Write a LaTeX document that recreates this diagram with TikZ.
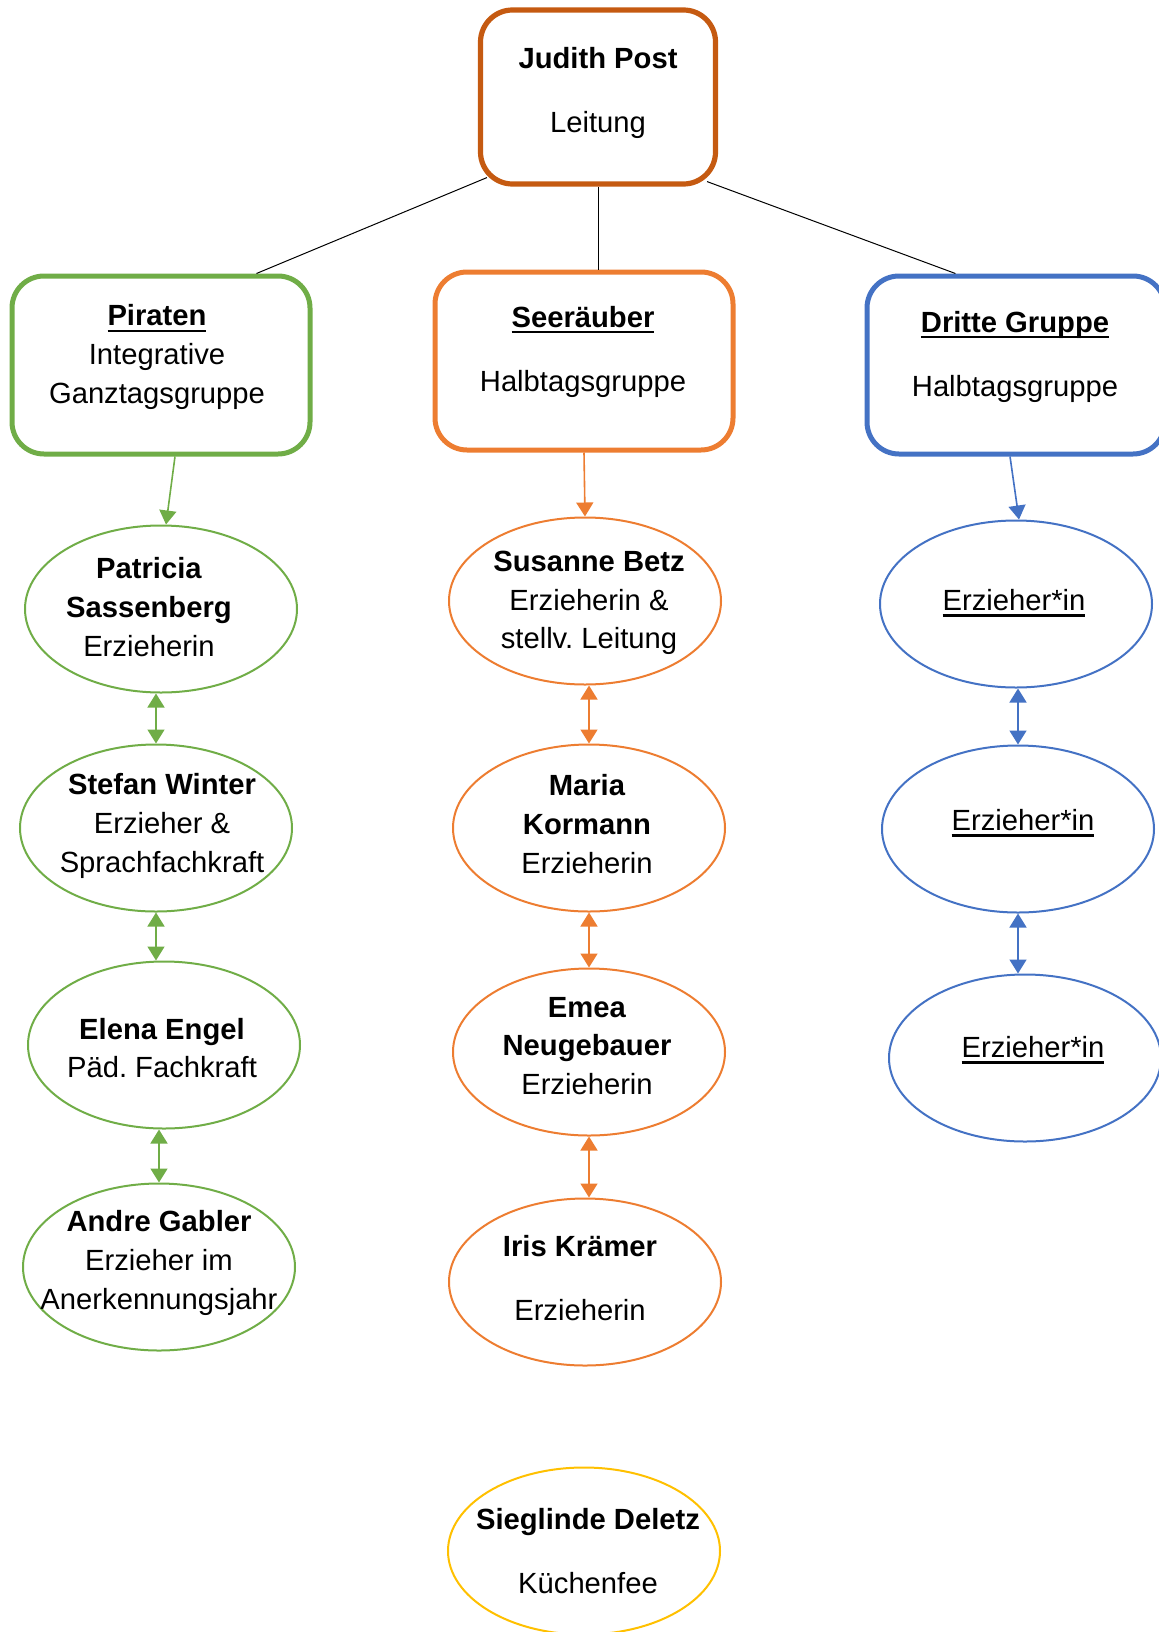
\documentclass[tikz,border=0pt]{standalone}
\usepackage{fontspec}
\setmainfont{Liberation Sans}
\usetikzlibrary{arrows.meta}
\usetikzlibrary{shapes.geometric}
\usetikzlibrary{calc}

\definecolor{leitung}{HTML}{C55A11}
\definecolor{gruen}{HTML}{70AD47}
\definecolor{seeorange}{HTML}{ED7D31}
\definecolor{blau}{HTML}{4472C4}
\definecolor{gelb}{HTML}{FFC000}

\newcommand{\ulin}[1]{\setbox0\hbox{#1}\rlap{\rule[-3pt]{\wd0}{1.1pt}}\box0}
\frenchspacing

\begin{document}
\begin{tikzpicture}[x=0.5pt,y=-0.5pt,
		font=\fontsize{14.6}{19.3}\selectfont,
		gruppe/.style={draw=#1,rounded corners=16pt,line width=2.5pt,minimum width=149pt,minimum height=89pt,inner sep=0pt},
		person/.style={draw=#1,ellipse,line width=1pt,minimum width=136pt,minimum height=83.5pt,inner sep=0pt},
		txt/.style={align=center,inner sep=0pt},
		link/.style={line width=0.5pt},
		pfeil/.style={draw=#1,line width=0.8pt,-{Triangle[length=7pt,width=8.5pt]}},
		doppel/.style={draw=#1,line width=0.8pt,{Triangle[length=7pt,width=8.5pt]}-{Triangle[length=7pt,width=8.5pt]}}]
		\useasboundingbox (0,0) rectangle (1158,1632);
		
		% Leitung und Gruppen
		\node[gruppe=leitung,line width=2.6pt,minimum width=117.5pt,minimum height=87pt] (top) at (598,97) {};
		\node[txt] (top-t) at (598,93) {\textbf{Judith Post}\\[13pt]Leitung};
		\node[gruppe=gruen] (pir) at (161,365) {};
		\node[txt] (pir-t) at (157,357) {\textbf{\ulin{Piraten}}\\Integrative\\Ganztagsgruppe};
		\node[gruppe=seeorange] (seer) at (584,361) {};
		\node[txt] (seer-t) at (583,352) {\textbf{\ulin{Seeräuber}}\\[13pt]Halbtagsgruppe};
		\node[gruppe=blau] (dri) at (1016,365) {};
		\node[txt] (dri-t) at (1015,357) {\textbf{\ulin{Dritte Gruppe}}\\[13pt]Halbtagsgruppe};
		
		\draw[link] ($(top.south west)+(9,-9)$) -- ($(pir.north west)!.815!(pir.north east)$);
		\draw[link] (top.south) -- (top.south |- seer.north);
		\draw[link] ($(top.south east)+(-11,-5)$) -- ($(dri.north west)!.3!(dri.north east)$);
		
		% Piraten
		\node[person=gruen] (pat) at (161,609) {};
		\node[txt] (pat-t) at (149,607) {\textbf{Patricia}\\\textbf{Sassenberg}\\Erzieherin};
		\node[person=gruen] (ste) at (156,828) {};
		\node[txt] (ste-t) at (162,826) {\textbf{Stefan Winter}\\Erzieher \&\\Sprachfachkraft};
		\node[person=gruen] (ele) at (164,1045) {};
		\node[txt] (ele-t) at (162,1048) {\textbf{Elena Engel}\\Päd. Fachkraft};
		\node[person=gruen] (and) at (159,1267) {};
		\node[txt] (and-t) at (159,1263) {\textbf{Andre Gabler}\\Erzieher im\\Anerkennungsjahr};
		
		\draw[pfeil=gruen] ([xshift=7pt]pir.south) -- ([xshift=2.5pt]pat.north);
		\draw[doppel=gruen] (pat.south -| ste.north) -- (ste.north);
		\draw[doppel=gruen] (ste.south) -- (ste.south |- ele.north);
		\draw[doppel=gruen] (ele.south -| and.north) -- (and.north);
		
		% Seeraeuber
		\node[person=seeorange] (sus) at (585,601) {};
		\node[txt] (sus-t) at (589,603) {\textbf{Susanne Betz}\\Erzieherin \&\\stellv. Leitung};
		\node[person=seeorange] (mar) at (589,828) {};
		\node[txt] (mar-t) at (587,824) {\textbf{Maria}\\\textbf{Kormann}\\Erzieherin};
		\node[person=seeorange] (emea) at (589,1052) {};
		\node[txt] (emea-t) at (587,1046) {\textbf{Emea}\\\textbf{Neugebauer}\\Erzieherin};
		\node[person=seeorange] (iri) at (585,1282) {};
		\node[txt] (iri-t) at (580,1278) {\textbf{Iris Krämer}\\[13pt]Erzieherin};
		\node[person=gelb] (sie) at (584,1551) {};
		\node[txt] (sie-t) at (588,1551) {\textbf{Sieglinde Deletz}\\[13pt]Küchenfee};
		
		\draw[pfeil=seeorange] (seer.south) -- (sus.north);
		\draw[doppel=seeorange] (sus.south -| mar.north) -- (mar.north);
		\draw[doppel=seeorange] (mar.south) -- (emea.north);
		\draw[doppel=seeorange] (emea.south) -- (emea.south |- iri.north);
		
		% Dritte Gruppe
		\node[person=blau] (b1) at (1016,604) {};
		\node[txt] (b1-t) at (1014,603) {\ulin{Erzieher*in}};
		\node[person=blau] (b2) at (1018,829) {};
		\node[txt] (b2-t) at (1023,823) {\ulin{Erzieher*in}};
		\node[person=blau] (b3) at (1025,1058) {};
		\node[txt] (b3-t) at (1033,1050) {\ulin{Erzieher*in}};
		
		\draw[pfeil=blau] ([xshift=-3pt]dri.south) -- ([xshift=1.5pt]b1.north);
		\draw[doppel=blau] (b1.south -| b2.north) -- (b2.north);
		\draw[doppel=blau] (b2.south) -- (b2.south |- b3.north);
		
\end{tikzpicture}
\end{document}
